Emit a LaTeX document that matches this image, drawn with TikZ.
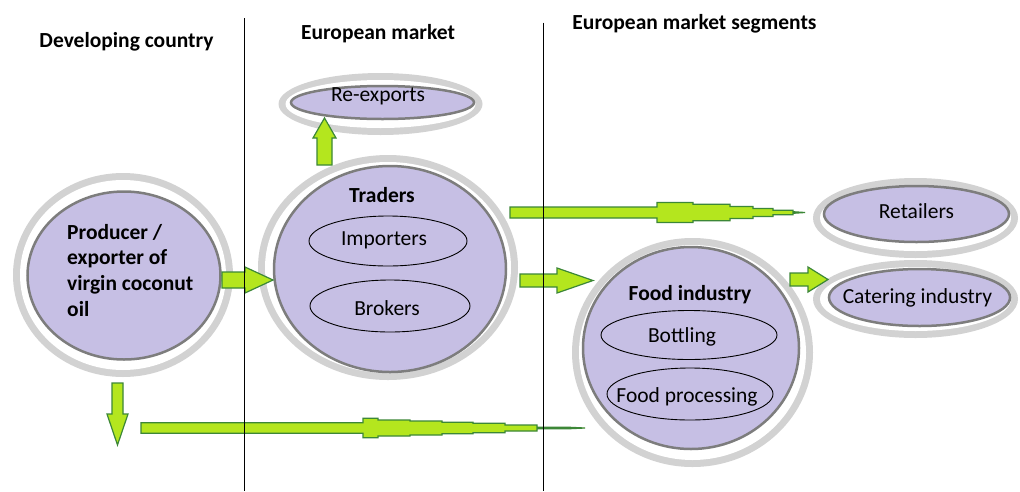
\documentclass[tikz,border=0pt]{standalone}
\usepackage{fontspec}
\setmainfont{Carlito}
\usetikzlibrary{shapes.geometric}
\definecolor{lav}{RGB}{198,191,228}
\definecolor{ringgray}{RGB}{210,210,210}
\definecolor{bordergray}{RGB}{125,125,125}
\definecolor{arrowfill}{RGB}{180,230,30}
\definecolor{arrowline}{RGB}{60,135,55}
\newcommand\halo[4]{%
  \fill[ringgray] (#1,#2) ellipse ({#3pt} and {#4pt});
  \fill[white] (#1,#2) ellipse ({#3pt-7pt} and {#4pt-7pt});}
\begin{document}
\begin{tikzpicture}[x=1pt,y=-1pt,
  font=\fontsize{21.5pt}{25.7pt}\selectfont,
  bubble/.style={ellipse, fill=lav, draw=bordergray, line width=2.5pt, inner sep=0pt, outer sep=0pt},
  subellipse/.style={ellipse, draw=black, line width=0.9pt, inner sep=0pt},
  lbl/.style={anchor=base, inner sep=0pt},
  blbl/.style={anchor=base, inner sep=0pt, font=\fontsize{21.5pt}{25.7pt}\selectfont\bfseries},
  barrow/.style={fill=arrowfill, draw=arrowline, line width=1.2pt, line join=miter},
  divider/.style={draw=black, line width=1pt}]
\useasboundingbox (0,0) rectangle (1020,491);
\fill[white] (0,0) rectangle (1020,491);

% halos (light grey rings)
\halo{123}{275}{110}{102}
\halo{388}{267.5}{130}{112.5}
\halo{692.5}{352.5}{120.5}{114.5}
\halo{915.5}{218}{102.5}{40}
\halo{915.5}{299}{102.5}{39}
\halo{380.5}{104}{102}{31}

% main bubbles
\node[bubble, minimum width=193pt, minimum height=168pt] (producer) at (124,275.5) {};
\node[bubble, minimum width=232pt, minimum height=206pt] (traders) at (390,269) {};
\node[bubble, minimum width=216pt, minimum height=202pt] (food) at (691,348) {};
\node[bubble, minimum width=185pt, minimum height=56pt] (retailers) at (916.5,214) {};
\node[bubble, minimum width=181pt, minimum height=57pt] (catering) at (919.5,297.5) {};
\node[bubble, minimum width=183pt, minimum height=33pt] (reexports) at (382.5,102.5) {};

% inner ellipses
\node[subellipse, minimum width=158pt, minimum height=50pt] (importers) at (388,241) {};
\node[subellipse, minimum width=160pt, minimum height=52pt] (brokers) at (390,306) {};
\node[subellipse, minimum width=176pt, minimum height=49pt] (bottling) at (689,335) {};
\node[subellipse, minimum width=166pt, minimum height=52pt] (foodproc) at (690,394) {};

% texts
\node[blbl] (hdev) at (126.5,47) {Developing country};
\node[blbl] (heu) at (378,39.3) {European market};
\node[blbl] (hseg) at (694.5,29.3) {European market segments};

\node[blbl, anchor=base west] (p1) at (67,239) {Producer /};
\node[blbl, anchor=base west] (p2) at (67,264.7) {exporter of};
\node[blbl, anchor=base west] (p3) at (67,290.4) {virgin coconut};
\node[blbl, anchor=base west] (p4) at (67,316.1) {oil};

\node[blbl] (ttraders) at (382,202) {Traders};
\node[lbl] (timporters) at (384,245) {Importers};
\node[lbl] (tbrokers) at (387,315) {Brokers};
\node[blbl] (tfood) at (690,300) {Food industry};
\node[lbl] (tbottling) at (682,342) {Bottling};
\node[lbl] (tfoodproc) at (687,402) {Food processing};
\node[lbl] (tretailers) at (916.5,218.3) {Retailers};
\node[lbl] (tcatering) at (917.5,303) {Catering industry};
\node[lbl] (treexports) at (378,101.7) {Re-exports};

% block arrows
% producer -> traders
\draw[barrow] (222,272) -- (245,272) -- (245,267) -- (273,280) -- (245,293) -- (245,288) -- (222,288) -- cycle;
% traders -> food industry
\draw[barrow] (520,274) -- (557,274) -- (557,268) -- (593,280.5) -- (557,293) -- (557,287) -- (520,287) -- cycle;
% food industry -> catering
\draw[barrow] (790,273) -- (808,273) -- (808,267) -- (828,279.5) -- (808,292) -- (808,286) -- (790,286) -- cycle;
% traders -> re-exports (up)
\draw[barrow] (317,165) -- (317,138) -- (313,138) -- (324.5,118) -- (336,138) -- (332,138) -- (332,165) -- cycle;
% producer down
\draw[barrow] (112,383) -- (123,383) -- (123,414) -- (128,414) -- (117.5,445) -- (107,414) -- (112,414) -- cycle;
% traders -> retailers (tapered)
\draw[barrow] (510,207) -- (657,207) -- (657,202.5) -- (693,202.5) -- (693,204.2) -- (730,204.2) -- (730,206.5) -- (753,206.5) -- (753,208.5) -- (773,208.5) -- (773,210.3) -- (793,210.3) -- (793,211.7) -- (805,212.5) -- (793,213.3) -- (793,214.7) -- (773,214.7) -- (773,216.5) -- (753,216.5) -- (753,218.5) -- (730,218.5) -- (730,220.8) -- (693,220.8) -- (693,222.5) -- (657,222.5) -- (657,218) -- (510,218) -- cycle;
% bottom tapered arrow towards food industry
\draw[barrow] (141,422.7) -- (363,422.7) -- (363,418.3) -- (378,418.3) -- (378,420) -- (410,420) -- (410,421) -- (442,421) -- (442,422.3) -- (473,422.3) -- (473,423.3) -- (505,423.3) -- (505,425) -- (537,425) -- (537,427.3) -- (570,427.3) -- (585,428) -- (570,428.7) -- (537,428.7) -- (537,431) -- (505,431) -- (505,432.7) -- (473,432.7) -- (473,433.7) -- (442,433.7) -- (442,435) -- (410,435) -- (410,436) -- (378,436) -- (378,437.7) -- (363,437.7) -- (363,433.3) -- (141,433.3) -- cycle;

% dividers
\coordinate (d1top) at (244,18);
\coordinate (d1bot) at (244,491);
\coordinate (d2top) at (543,22.5);
\coordinate (d2bot) at (543,491);
\draw[divider] (d1top) -- (d1bot);
\draw[divider] (d2top) -- (d2bot);
\end{tikzpicture}
\end{document}
